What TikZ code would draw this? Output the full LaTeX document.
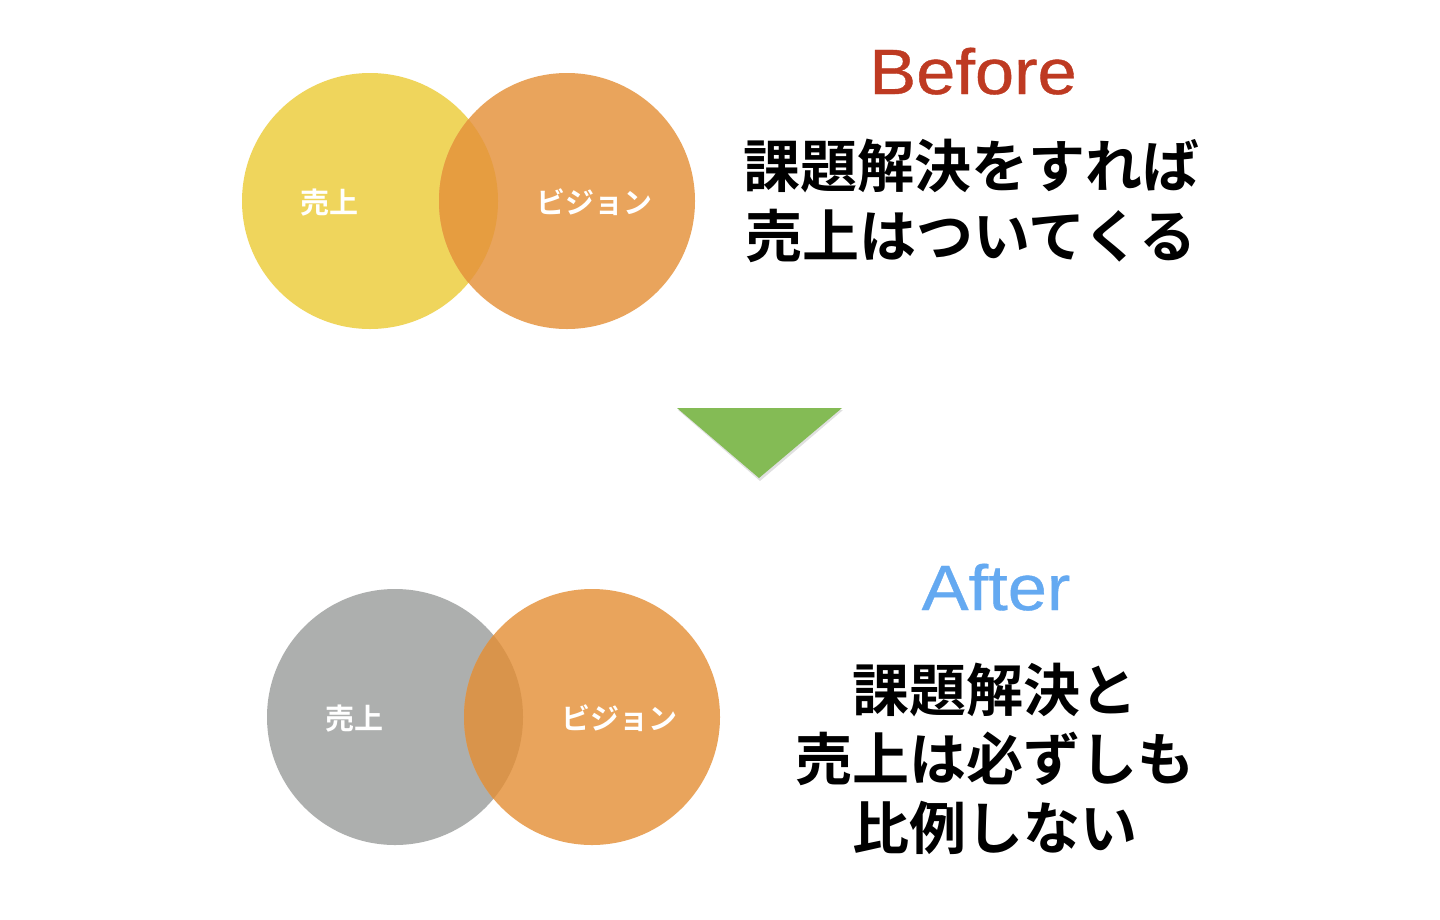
\documentclass[tikz,border=0pt]{standalone}
\usepackage{fontspec}
\setmainfont{Liberation Sans}
\newfontfamily\cjk{Noto Sans CJK JP}[BoldFont={* Bold}]
\newfontfamily\headfont{Liberation Sans}[FakeStretch=1.1,FakeBold=0.6]
\definecolor{cyellow}{HTML}{EFD55C}
\definecolor{corange}{HTML}{E9A45C}
\definecolor{covtop}{HTML}{E69D40}
\definecolor{cgray}{HTML}{ADAFAE}
\definecolor{covbot}{HTML}{D9944B}
\definecolor{cgreen}{HTML}{84BB55}
\definecolor{cred}{HTML}{BE3A22}
\definecolor{cblue}{HTML}{64A9F1}
\tikzset{
  disc/.style={circle,minimum size=256pt,inner sep=0pt,outer sep=0pt},
  clabel/.style={text=white,font=\cjk\bfseries\fontsize{29}{29}\selectfont,text height=0.88em,text depth=0.12em,inner sep=0pt},
  jline/.style={text=black,font=\cjk\bfseries\fontsize{57}{57}\selectfont,text height=0.88em,text depth=0.12em,inner sep=0pt},
  head/.style={anchor=base,inner sep=0pt,font=\headfont\fontsize{64}{64}\selectfont}
}
\begin{document}
\begin{tikzpicture}[x=1pt,y=-1pt]
\useasboundingbox[fill=white] (0,0) rectangle (1440,919);
% top venn
\node[disc,fill=cyellow] (ya) at (370,201) {};
\node[disc,fill=corange] (oa) at (567,201) {};
\begin{scope}
  \clip (ya.center) circle[radius=128pt];
  \fill[covtop] (oa.center) circle[radius=128pt];
\end{scope}
\node[clabel] (la1) at (329,210) {売上};
\node[clabel] (la2) at (594,210) {ビジョン};
% bottom venn
\node[disc,fill=cgray] (gb) at (395,717) {};
\node[disc,fill=corange] (ob) at (592,717) {};
\begin{scope}
  \clip (gb.center) circle[radius=128pt];
  \fill[covbot] (ob.center) circle[radius=128pt];
\end{scope}
\node[clabel] (lb1) at (354,726) {売上};
\node[clabel] (lb2) at (619,726) {ビジョン};
% arrow triangle
\fill[black,opacity=0.12] (678,410) -- (843,410) -- (760,481) -- cycle;
\fill[cgreen] (677,408) -- (842,408) -- (759,478) -- cycle;
% texts
\node[head,text=cred] (before) at (973,94) {Before};
\node[jline] (t1) at (971,184) {課題解決をすれば};
\node[jline] (t2) at (971,254) {売上はついてくる};
\node[head,text=cblue] (after) at (996,610) {After};
\node[jline] (u1) at (995,708) {課題解決と};
\node[jline] (u2) at (995,777) {売上は必ずしも};
\node[jline] (u3) at (995,846) {比例しない};
\end{tikzpicture}
\end{document}
